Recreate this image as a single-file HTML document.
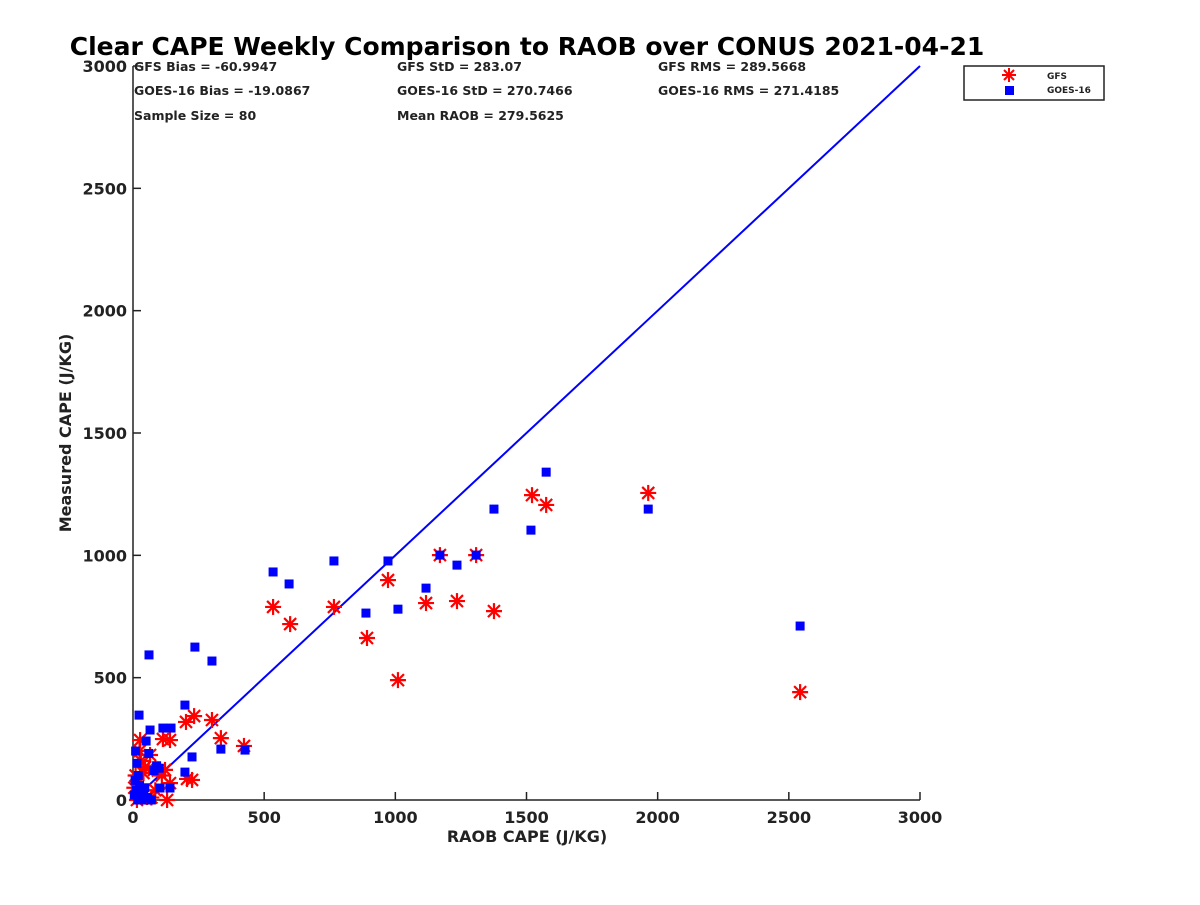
<!DOCTYPE html>
<html><head><meta charset="utf-8"><style>
body{margin:0;background:#fff;}
svg text{font-family:"DejaVu Sans","Liberation Sans",sans-serif;font-weight:bold;fill:#222;}
</style></head><body>
<svg id="chart" width="1200" height="900" xmlns="http://www.w3.org/2000/svg">
<rect width="1200" height="900" fill="#fff"/>
<text x="527" y="55" font-size="25" text-anchor="middle" style="fill:#000">Clear CAPE Weekly Comparison to RAOB over CONUS 2021-04-21</text>
<g font-size="12.5">
<text x="134" y="71">GFS Bias = -60.9947</text>
<text x="397" y="71">GFS StD = 283.07</text>
<text x="658" y="71">GFS RMS = 289.5668</text>
<text x="134" y="95">GOES-16 Bias = -19.0867</text>
<text x="397" y="95">GOES-16 StD = 270.7466</text>
<text x="658" y="95">GOES-16 RMS = 271.4185</text>
<text x="134" y="120">Sample Size = 80</text>
<text x="397" y="120">Mean RAOB = 279.5625</text>
</g>
<g id="axes"></g>
<g id="marks"></g>
<g>
<rect x="964" y="66" width="140" height="34" fill="#fff" stroke="#222" stroke-width="1.5"/>
<text x="1047" y="79" font-size="9">GFS</text>
<text x="1047" y="93" font-size="9">GOES-16</text>
<g stroke="#f00" stroke-width="2"><line x1="1002" y1="75" x2="1016" y2="75"/><line x1="1009" y1="68" x2="1009" y2="82"/><line x1="1004" y1="70" x2="1014" y2="80"/><line x1="1014" y1="70" x2="1004" y2="80"/></g>
<rect x="1005" y="86" width="9" height="9" fill="#00f"/>
</g>
</svg>
<script>
const xTicks=[0,500,1000,1500,2000,2500,3000];
const yTicks=[0,500,1000,1500,2000,2500,3000];
const goesX=[61,236,301,23,198,65,114,145,50,225,335,427,198,141,103,10,15,20,25,30,40,55,70,80,100,5,8,12,18,35,45,60,90,534,595,766,972,888,1010,1117,1170,1235,1308,1376,1517,1575,1964,2543];
const goesY=[593,625,568,347,388,286,294,294,241,176,208,204,114,49,49,200,150,100,60,30,20,10,0,120,130,20,80,40,0,0,50,190,140,932,883,977,977,764,780,866,1001,960,1001,1189,1103,1340,1189,711];
const gfsX=[534,599,766,972,892,1010,1117,1170,1235,1308,1376,1521,1575,1964,2543,202,233,301,335,423,114,141,206,225,141,27,65,46,122,20,53,130,10,15,30,40,60,85,95,5,25,70,110];
const gfsY=[789,719,789,899,662,490,805,1001,813,1001,772,1246,1206,1255,441,319,343,327,253,221,249,245,86,82,69,245,184,135,123,30,12,0,100,0,160,110,130,40,120,50,200,10,100];
const X=v=>133+v*(787/3000), Y=v=>800-v*(734/3000);
const NS="http://www.w3.org/2000/svg";
const ax=document.getElementById('axes'), mk=document.getElementById('marks');
function el(t,a,p){const e=document.createElementNS(NS,t);for(const k in a)e.setAttribute(k,a[k]);p.appendChild(e);return e;}
let a=el('line',{x1:133,y1:66,x2:133,y2:800,stroke:'#222','stroke-width':1.5},ax);


a=el('line',{x1:133,y1:800,x2:920,y2:800,stroke:'#222','stroke-width':1.5},ax);


xTicks.forEach(t=>{el('line',{x1:X(t),y1:800,x2:X(t),y2:792,stroke:'#222','stroke-width':1.5},ax);
 const tx=el('text',{x:X(t),y:823,'font-size':16,'text-anchor':'middle'},ax);tx.textContent=t;
 
 });
yTicks.forEach(t=>{el('line',{x1:133,y1:Y(t),x2:141,y2:Y(t),stroke:'#222','stroke-width':1.5},ax);
 const tx=el('text',{x:127,y:Y(t)+6,'font-size':16,'text-anchor':'end'},ax);tx.textContent=t;
 
 });
let xl=el('text',{x:527,y:842,'font-size':16,'text-anchor':'middle'},ax);xl.textContent='RAOB CAPE (J/KG)';


let yl=el('text',{x:0,y:0,'font-size':16,'text-anchor':'middle',transform:'translate(71,433) rotate(-90)'},ax);yl.textContent='Measured CAPE (J/KG)';


let fl=el('line',{x1:X(30),y1:Y(30),x2:X(3000),y2:Y(3000),stroke:'#00f','stroke-width':2},mk);


gfsX.forEach((v,i)=>{const cx=X(v),cy=Y(gfsY[i]);const g=el('g',{stroke:'#f00','stroke-width':2.2},mk);
 
 
 el('line',{x1:cx-8,y1:cy,x2:cx+8,y2:cy},g);el('line',{x1:cx,y1:cy-8,x2:cx,y2:cy+8},g);
 el('line',{x1:cx-6,y1:cy-6,x2:cx+6,y2:cy+6},g);el('line',{x1:cx+6,y1:cy-6,x2:cx-6,y2:cy+6},g);});
goesX.forEach((v,i)=>{const r=el('rect',{x:X(v)-4.5,y:Y(goesY[i])-4.5,width:9,height:9,fill:'#00f'},mk);
 
 });
</script>
</body></html>
